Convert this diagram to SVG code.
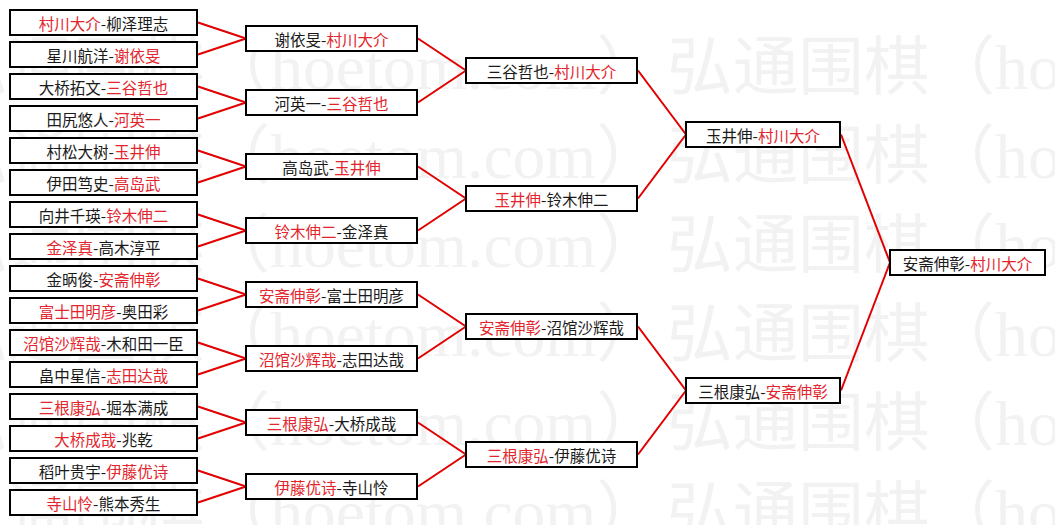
<svg xmlns="http://www.w3.org/2000/svg" width="1055" height="525" viewBox="0 0 1055 525">
<style>
.box{fill:#fff;stroke:#000;stroke-width:2}
.t{font-family:"Noto Sans CJK SC","Noto Sans CJK JP",sans-serif;font-size:15.5px;fill:#1a1a1a;text-anchor:middle;dominant-baseline:central}
.r{fill:#e3262d}
.conn line{stroke:#e00000;stroke-width:2}
.wm{font-family:"Liberation Serif","Noto Sans CJK SC",serif;font-size:64px;fill:#f2f2f2}
</style>
<rect width="1055" height="525" fill="#fff"/>
<g id="watermark">
<text class="wm" x="-58" y="89" textLength="720" lengthAdjust="spacingAndGlyphs">弘通围棋（hoetom.com）</text>
<text class="wm" x="667" y="89" textLength="720" lengthAdjust="spacingAndGlyphs">弘通围棋（hoetom.com）</text>
<text class="wm" x="-58" y="178" textLength="720" lengthAdjust="spacingAndGlyphs">弘通围棋（hoetom.com）</text>
<text class="wm" x="667" y="178" textLength="720" lengthAdjust="spacingAndGlyphs">弘通围棋（hoetom.com）</text>
<text class="wm" x="-58" y="267" textLength="720" lengthAdjust="spacingAndGlyphs">弘通围棋（hoetom.com）</text>
<text class="wm" x="667" y="267" textLength="720" lengthAdjust="spacingAndGlyphs">弘通围棋（hoetom.com）</text>
<text class="wm" x="-58" y="356" textLength="720" lengthAdjust="spacingAndGlyphs">弘通围棋（hoetom.com）</text>
<text class="wm" x="667" y="356" textLength="720" lengthAdjust="spacingAndGlyphs">弘通围棋（hoetom.com）</text>
<text class="wm" x="-58" y="445" textLength="720" lengthAdjust="spacingAndGlyphs">弘通围棋（hoetom.com）</text>
<text class="wm" x="667" y="445" textLength="720" lengthAdjust="spacingAndGlyphs">弘通围棋（hoetom.com）</text>
<text class="wm" x="-58" y="534" textLength="720" lengthAdjust="spacingAndGlyphs">弘通围棋（hoetom.com）</text>
<text class="wm" x="667" y="534" textLength="720" lengthAdjust="spacingAndGlyphs">弘通围棋（hoetom.com）</text>
</g>
<g id="connectors" class="conn">
<line x1="198" y1="22.5" x2="246" y2="38.5"/>
<line x1="198" y1="54.5" x2="246" y2="38.5"/>
<line x1="198" y1="86.5" x2="246" y2="102.5"/>
<line x1="198" y1="118.5" x2="246" y2="102.5"/>
<line x1="198" y1="150.5" x2="246" y2="166.5"/>
<line x1="198" y1="182.5" x2="246" y2="166.5"/>
<line x1="198" y1="214.5" x2="246" y2="230.5"/>
<line x1="198" y1="246.5" x2="246" y2="230.5"/>
<line x1="198" y1="278.5" x2="246" y2="294.5"/>
<line x1="198" y1="310.5" x2="246" y2="294.5"/>
<line x1="198" y1="342.5" x2="246" y2="358.5"/>
<line x1="198" y1="374.5" x2="246" y2="358.5"/>
<line x1="198" y1="406.5" x2="246" y2="422.5"/>
<line x1="198" y1="438.5" x2="246" y2="422.5"/>
<line x1="198" y1="470.5" x2="246" y2="486.5"/>
<line x1="198" y1="502.5" x2="246" y2="486.5"/>
<line x1="418" y1="38.5" x2="466" y2="70.5"/>
<line x1="418" y1="102.5" x2="466" y2="70.5"/>
<line x1="418" y1="166.5" x2="466" y2="198.5"/>
<line x1="418" y1="230.5" x2="466" y2="198.5"/>
<line x1="418" y1="294.5" x2="466" y2="326.5"/>
<line x1="418" y1="358.5" x2="466" y2="326.5"/>
<line x1="418" y1="422.5" x2="466" y2="454.5"/>
<line x1="418" y1="486.5" x2="466" y2="454.5"/>
<line x1="638" y1="70.5" x2="686" y2="134.5"/>
<line x1="638" y1="198.5" x2="686" y2="134.5"/>
<line x1="638" y1="326.5" x2="686" y2="390.5"/>
<line x1="638" y1="454.5" x2="686" y2="390.5"/>
<line x1="841" y1="134.5" x2="890" y2="262.5"/>
<line x1="841" y1="390.5" x2="890" y2="262.5"/>
</g>
<g id="r1-1"><rect class="box" x="10" y="10" width="187" height="25"/><text class="t" x="103.5" y="22.5"><tspan class="r">村川大介</tspan>-柳泽理志</text></g>
<g id="r1-2"><rect class="box" x="10" y="42" width="187" height="25"/><text class="t" x="103.5" y="54.5">星川航洋-<tspan class="r">谢依旻</tspan></text></g>
<g id="r1-3"><rect class="box" x="10" y="74" width="187" height="25"/><text class="t" x="103.5" y="86.5">大桥拓文-<tspan class="r">三谷哲也</tspan></text></g>
<g id="r1-4"><rect class="box" x="10" y="106" width="187" height="25"/><text class="t" x="103.5" y="118.5">田尻悠人-<tspan class="r">河英一</tspan></text></g>
<g id="r1-5"><rect class="box" x="10" y="138" width="187" height="25"/><text class="t" x="103.5" y="150.5">村松大树-<tspan class="r">玉井伸</tspan></text></g>
<g id="r1-6"><rect class="box" x="10" y="170" width="187" height="25"/><text class="t" x="103.5" y="182.5">伊田笃史-<tspan class="r">高岛武</tspan></text></g>
<g id="r1-7"><rect class="box" x="10" y="202" width="187" height="25"/><text class="t" x="103.5" y="214.5">向井千瑛-<tspan class="r">铃木伸二</tspan></text></g>
<g id="r1-8"><rect class="box" x="10" y="234" width="187" height="25"/><text class="t" x="103.5" y="246.5"><tspan class="r">金泽真</tspan>-高木淳平</text></g>
<g id="r1-9"><rect class="box" x="10" y="266" width="187" height="25"/><text class="t" x="103.5" y="278.5">金昞俊-<tspan class="r">安斋伸彰</tspan></text></g>
<g id="r1-10"><rect class="box" x="10" y="298" width="187" height="25"/><text class="t" x="103.5" y="310.5"><tspan class="r">富士田明彦</tspan>-奥田彩</text></g>
<g id="r1-11"><rect class="box" x="10" y="330" width="187" height="25"/><text class="t" x="103.5" y="342.5"><tspan class="r">沼馆沙辉哉</tspan>-木和田一臣</text></g>
<g id="r1-12"><rect class="box" x="10" y="362" width="187" height="25"/><text class="t" x="103.5" y="374.5">畠中星信-<tspan class="r">志田达哉</tspan></text></g>
<g id="r1-13"><rect class="box" x="10" y="394" width="187" height="25"/><text class="t" x="103.5" y="406.5"><tspan class="r">三根康弘</tspan>-堀本满成</text></g>
<g id="r1-14"><rect class="box" x="10" y="426" width="187" height="25"/><text class="t" x="103.5" y="438.5"><tspan class="r">大桥成哉</tspan>-兆乾</text></g>
<g id="r1-15"><rect class="box" x="10" y="458" width="187" height="25"/><text class="t" x="103.5" y="470.5">稻叶贵宇-<tspan class="r">伊藤优诗</tspan></text></g>
<g id="r1-16"><rect class="box" x="10" y="490" width="187" height="25"/><text class="t" x="103.5" y="502.5"><tspan class="r">寺山怜</tspan>-熊本秀生</text></g>
<g id="r2-1"><rect class="box" x="246" y="26" width="171" height="25"/><text class="t" x="331.5" y="38.5">谢依旻-<tspan class="r">村川大介</tspan></text></g>
<g id="r2-2"><rect class="box" x="246" y="90" width="171" height="25"/><text class="t" x="331.5" y="102.5">河英一-<tspan class="r">三谷哲也</tspan></text></g>
<g id="r2-3"><rect class="box" x="246" y="154" width="171" height="25"/><text class="t" x="331.5" y="166.5">高岛武-<tspan class="r">玉井伸</tspan></text></g>
<g id="r2-4"><rect class="box" x="246" y="218" width="171" height="25"/><text class="t" x="331.5" y="230.5"><tspan class="r">铃木伸二</tspan>-金泽真</text></g>
<g id="r2-5"><rect class="box" x="246" y="282" width="171" height="25"/><text class="t" x="331.5" y="294.5"><tspan class="r">安斋伸彰</tspan>-富士田明彦</text></g>
<g id="r2-6"><rect class="box" x="246" y="346" width="171" height="25"/><text class="t" x="331.5" y="358.5"><tspan class="r">沼馆沙辉哉</tspan>-志田达哉</text></g>
<g id="r2-7"><rect class="box" x="246" y="410" width="171" height="25"/><text class="t" x="331.5" y="422.5"><tspan class="r">三根康弘</tspan>-大桥成哉</text></g>
<g id="r2-8"><rect class="box" x="246" y="474" width="171" height="25"/><text class="t" x="331.5" y="486.5"><tspan class="r">伊藤优诗</tspan>-寺山怜</text></g>
<g id="r3-1"><rect class="box" x="466" y="58" width="171" height="25"/><text class="t" x="551.5" y="70.5">三谷哲也-<tspan class="r">村川大介</tspan></text></g>
<g id="r3-2"><rect class="box" x="466" y="186" width="171" height="25"/><text class="t" x="551.5" y="198.5"><tspan class="r">玉井伸</tspan>-铃木伸二</text></g>
<g id="r3-3"><rect class="box" x="466" y="314" width="171" height="25"/><text class="t" x="551.5" y="326.5"><tspan class="r">安斋伸彰</tspan>-沼馆沙辉哉</text></g>
<g id="r3-4"><rect class="box" x="466" y="442" width="171" height="25"/><text class="t" x="551.5" y="454.5"><tspan class="r">三根康弘</tspan>-伊藤优诗</text></g>
<g id="r4-1"><rect class="box" x="686" y="122" width="154" height="25"/><text class="t" x="763" y="134.5">玉井伸-<tspan class="r">村川大介</tspan></text></g>
<g id="r4-2"><rect class="box" x="686" y="378" width="154" height="25"/><text class="t" x="763" y="390.5">三根康弘-<tspan class="r">安斋伸彰</tspan></text></g>
<g id="final"><rect class="box" x="890" y="250" width="155" height="25"/><text class="t" x="967.5" y="262.5">安斋伸彰-<tspan class="r">村川大介</tspan></text></g>
</svg>
